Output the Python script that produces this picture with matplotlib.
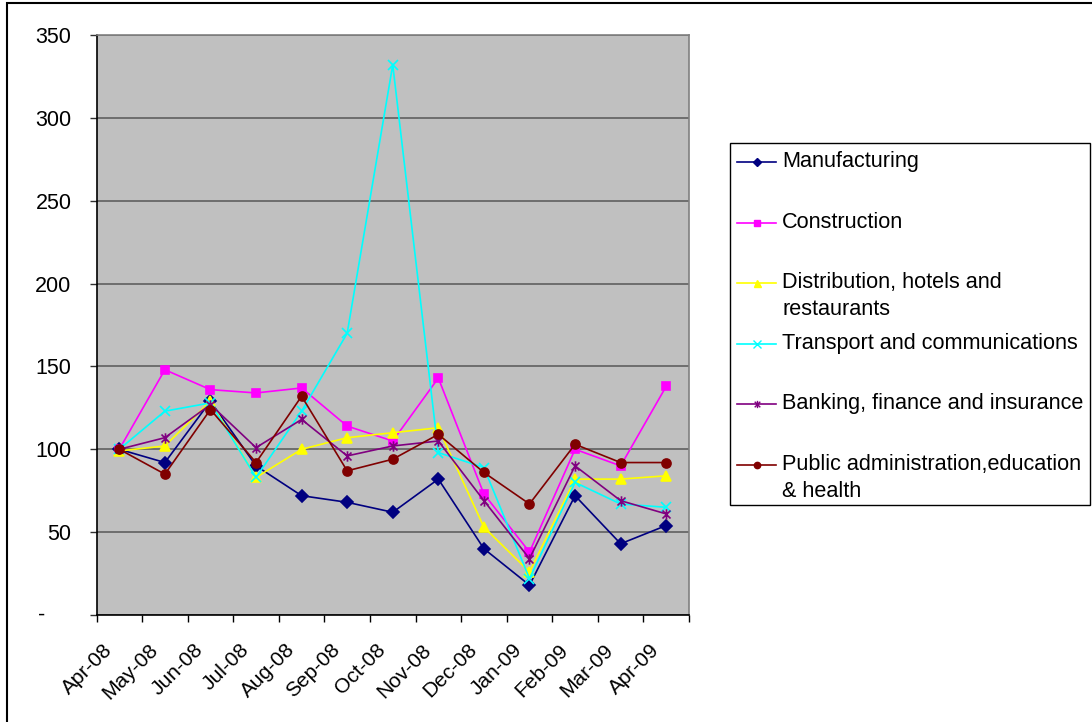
import numpy as np
import matplotlib
matplotlib.use('Agg')
import matplotlib.pyplot as plt
from matplotlib.path import Path
from matplotlib.patches import Rectangle
from matplotlib.transforms import ScaledTranslation

plt.rcParams['font.family'] = ['Liberation Sans', 'DejaVu Sans']

# Donnees
months = ['Apr-08', 'May-08', 'Jun-08', 'Jul-08', 'Aug-08', 'Sep-08', 'Oct-08',
          'Nov-08', 'Dec-08', 'Jan-09', 'Feb-09', 'Mar-09', 'Apr-09']

manufacturing = [100, 92, 129, 90, 72, 68, 62, 82, 40, 18, 72, 43, 54]
construction = [100, 148, 136, 134, 137, 114, 105, 143, 73, 38, 100, 90, 138]
distribution = [99, 102, 129, 83, 100, 107, 110, 113, 53, 26, 82, 82, 84]
transport = [100, 123, 128, 83, 123, 170, 332, 98, 89, 22, 80, 67, 65]
banking = [100, 107, 127, 101, 118, 96, 102, 105, 69, 34, 90, 69, 61]
public = [100, 85, 124, 92, 132, 87, 94, 109, 86, 67, 103, 92, 92]

labels = ['Manufacturing', 'Construction', 'Distribution, hotels and\nrestaurants',
          'Transport and communications', 'Banking, finance and insurance',
          'Public administration,education\n& health']
colors = ['#000080', '#FF00FF', '#FFFF00', '#00FFFF', '#800080', '#800000']

# marqueur etoile facon Excel (x + barre verticale)
star = Path([(-1, -1), (1, 1), (-1, 1), (1, -1), (0, -1.3), (0, 1.3)],
            [Path.MOVETO, Path.LINETO, Path.MOVETO, Path.LINETO, Path.MOVETO, Path.LINETO])
markers = ['D', 's', '^', 'x', star, 'o']
msizes = [6.5, 6.2, 7.2, 7.5, 7.5, 6.5]

all_series = [manufacturing, construction, distribution, transport, banking, public]

W, H = 1092, 722
fig = plt.figure(figsize=(W / 100, H / 100), dpi=100)
fig.patch.set_facecolor('white')

ax = fig.add_axes([96.5 / W, 1 - 615 / H, 592.5 / W, 580 / H])
ax.set_facecolor('#C0C0C0')

x = np.arange(len(months))
for vals, col, mk, ms in zip(all_series, colors, markers, msizes):
    ax.plot(x, vals, color=col, linewidth=1.2, marker=mk, markersize=ms,
            markerfacecolor=col, markeredgecolor=col, markeredgewidth=1.2,
            clip_on=False)

ax.set_xlim(-0.5, len(months) - 0.5)
ax.set_ylim(0, 350)
ax.set_yticks(np.arange(0, 351, 50))
ax.set_yticklabels([''] + [str(v) for v in range(50, 351, 50)])
ax.text(-0.087, 0, '-', transform=ax.get_yaxis_transform(), ha='right',
        va='center', fontsize=15.5)
ax.yaxis.grid(True, color='#5f5f5f', linewidth=1.2)
ax.set_axisbelow(True)

# ticks de categories aux limites, etiquettes au centre
ax.set_xticks(np.arange(-0.5, len(months), 1.0))
ax.set_xticklabels([])
ax.set_xticks(x, minor=True)
ax.set_xticklabels(months, minor=True, rotation=45, ha='right', va='center',
                   rotation_mode='anchor', fontsize=15)
ax.tick_params(axis='x', which='minor', length=0, pad=23)
ax.tick_params(axis='x', which='major', length=5, width=1, color='black')
ax.tick_params(axis='y', length=5, width=1, color='#303030', labelsize=15.5, pad=13)
shift = ScaledTranslation(-10 / 100, 0, fig.dpi_scale_trans)
for t in ax.get_xticklabels(minor=True):
    t.set_transform(t.get_transform() + shift)

ax.spines['left'].set_color('black')
ax.spines['bottom'].set_color('black')
ax.spines['top'].set_color('#808080')
ax.spines['right'].set_color('#808080')
for s in ax.spines.values():
    s.set_linewidth(1.2)

# legende dessinee a la main (coordonnees pixels)
lx0, lx1, ly0, ly1 = 729, 1091, 143, 506
lax = fig.add_axes([lx0 / W, 1 - ly1 / H, (lx1 - lx0) / W, (ly1 - ly0) / H])
lax.set_xlim(lx0, lx1)
lax.set_ylim(ly1, ly0)
lax.axis('off')
lax.add_patch(Rectangle((lx0 + 0.5, ly0 + 0.5), lx1 - lx0 - 1.5, ly1 - ly0 - 1,
                        fill=False, edgecolor='black', linewidth=1.0, clip_on=False))
ypos = [162, 223, 283, 344, 404, 465]
for lab, col, mk, ms, yy in zip(labels, colors, markers, msizes, ypos):
    lax.plot([737, 776], [yy, yy], color=col, linewidth=1.2)
    lax.plot([756.5], [yy], color=col, marker=mk, markersize=ms * 0.7,
             markerfacecolor=col, markeredgecolor=col, markeredgewidth=1.0)
    for k, line in enumerate(lab.split('\n')):
        lax.text(782, yy + 27 * k, line, ha='left', va='center', fontsize=15.6)

# cadre exterieur du graphique
fig.patches.append(Rectangle((7 / W, -0.1), 1.2, 1 - 3 / H + 0.1, fill=False,
                             edgecolor='black', linewidth=1.5,
                             transform=fig.transFigure, figure=fig))

plt.savefig('out.png', dpi=100)
